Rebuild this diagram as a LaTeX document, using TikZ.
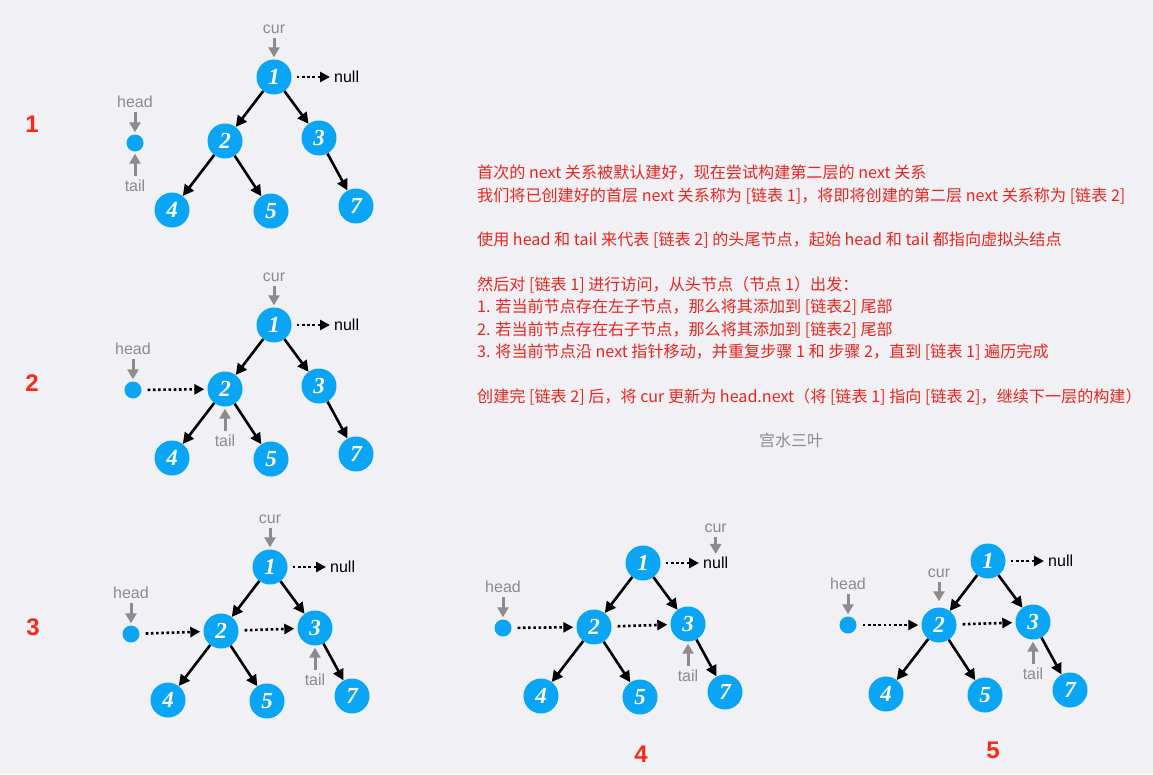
\documentclass[tikz,border=0pt]{standalone}
\usepackage{fontspec}
\setmainfont{Liberation Serif}
\setsansfont{Liberation Sans}
\newfontfamily\cjk{Noto Sans CJK SC}
\usetikzlibrary{arrows.meta,positioning}
\definecolor{nodeblue}{RGB}{10,165,245}
\definecolor{bg}{RGB}{240,240,245}
\definecolor{ptrgray}{RGB}{140,140,140}
\definecolor{note}{RGB}{232,38,30}
\definecolor{steplbl}{RGB}{250,40,20}
\tikzset{
  tnode/.style={circle, fill=nodeblue, minimum size=35pt, inner sep=0pt, text=white,
    font=\fontsize{23}{23}\selectfont\bfseries\itshape},
  dummy/.style={circle, fill=nodeblue, minimum size=17pt, inner sep=0pt},
  lbl/.style={text=ptrgray, font=\fontsize{16}{16}\selectfont\sffamily, inner sep=1pt},
  nul/.style={font=\fontsize{16}{16}\selectfont\sffamily, inner sep=1pt},
  child/.style={-{Triangle[length=11pt,width=11pt]}, line width=2.6pt},
  ptr/.style={-{Triangle[length=10pt,width=11pt]}, draw=ptrgray, line width=3pt,
    shorten >=2pt, shorten <=3pt},
  nxt/.style={-{Triangle[length=10pt,width=10pt]}, line width=2.6pt,
    dash pattern=on 2.6pt off 2.6pt, shorten <=6pt, shorten >=3pt},
  steplabel/.style={text=steplbl, font=\fontsize{24}{24}\selectfont\sffamily\bfseries}
}
\begin{document}
\begin{tikzpicture}[x=1pt, y=-1pt]
\useasboundingbox[fill=bg] (0,0) rectangle (1153,774);
% the same tree in every step
\foreach \p/\x/\y/\hx/\hy in {a/274/77/135/143, b/274/325/133/390, c/270/567/131/634,
  d/643/563/503/628, e/988/561/848/625}{
  \node[tnode] (\p1) at (\x,\y) {1};
  \node[tnode] (\p2) at (\x-49,\y+64) {2};
  \node[tnode] (\p3) at (\x+45,\y+61) {3};
  \node[tnode] (\p4) at (\x-102,\y+133) {4};
  \node[tnode] (\p5) at (\x-3,\y+134) {5};
  \node[tnode] (\p7) at (\x+82,\y+129) {7};
  \node[nul, anchor=west] (\p-null) at (\x+59,\y) {null};
  \node[dummy] (\p-dot) at (\hx,\hy) {};
  \node[lbl, above=25pt of \p-dot] (\p-head) {head};
  \draw[child] (\p1) -- (\p2);
  \draw[child] (\p1) -- (\p3);
  \draw[child] (\p2) -- (\p4);
  \draw[child] (\p2) -- (\p5);
  \draw[child] (\p3) -- (\p7);
  \draw[nxt, shorten <=5pt] (\p1) -- (\p-null);
  \draw[ptr] (\p-head) -- (\p-dot);
}
% step 1
\node[lbl, above=24pt of a1] (a-cur) {cur};
\draw[ptr] (a-cur) -- (a1);
\node[lbl, below=27pt of a-dot] (a-tail) {tail};
\draw[ptr] (a-tail) -- (a-dot);
% step 2
\node[lbl, above=24pt of b1] (b-cur) {cur};
\draw[ptr] (b-cur) -- (b1);
\draw[nxt] (b-dot) -- (b2);
\node[lbl, below=27pt of b2] (b-tail) {tail};
\draw[ptr] (b-tail) -- (b2);
% step 3
\node[lbl, above=24pt of c1] (c-cur) {cur};
\draw[ptr] (c-cur) -- (c1);
\draw[nxt] (c-dot) -- (c2);
\draw[nxt] (c2) -- (c3);
\node[lbl, below=27pt of c3] (c-tail) {tail};
\draw[ptr] (c-tail) -- (c3);
% step 4
\node[lbl, above=22pt of d-null] (d-cur) {cur};
\draw[ptr] (d-cur) -- (d-null);
\draw[nxt] (d-dot) -- (d2);
\draw[nxt] (d2) -- (d3);
\node[lbl, below=27pt of d3] (d-tail) {tail};
\draw[ptr] (d-tail) -- (d3);
% step 5
\node[lbl, above=28pt of e2] (e-cur) {cur};
\draw[ptr, shorten >=6pt] (e-cur) -- (e2);
\draw[nxt] (e-dot) -- (e2);
\draw[nxt] (e2) -- (e3);
\node[lbl, below=27pt of e3] (e-tail) {tail};
\draw[ptr] (e-tail) -- (e3);

\node[steplabel] (s1) at (32,124) {1};
\node[steplabel] (s2) at (32,383) {2};
\node[steplabel] (s3) at (33,627) {3};
\node[steplabel] (s4) at (641,754) {4};
\node[steplabel] (s5) at (993,750) {5};

\node[text=note, anchor=north west, align=left, inner sep=0pt,
  font=\cjk\fontsize{16.1}{22.5}\selectfont] (notes) at (477,165) {%
首次的 next 关系被默认建好，现在尝试构建第二层的 next 关系\\
我们将已创建好的首层 next 关系称为 [链表 1]，将即将创建的第二层 next 关系称为 [链表 2]\\[22pt]
使用 head 和 tail 来代表 [链表 2] 的头尾节点，起始 head 和 tail 都指向虚拟头结点\\[22pt]
然后对 [链表 1] 进行访问，从头节点（节点 1）出发：\\
1. 若当前节点存在左子节点，那么将其添加到 [链表2] 尾部\\
2. 若当前节点存在右子节点，那么将其添加到 [链表2] 尾部\\
3. 将当前节点沿 next 指针移动，并重复步骤 1 和 步骤 2，直到 [链表 1] 遍历完成\\[22pt]
创建完 [链表 2] 后，将 cur 更新为 head.next（将 [链表 1] 指向 [链表 2]，继续下一层的构建）};
\node[text=ptrgray, font=\cjk\fontsize{16}{16}\selectfont] (sign) at (791,440) {宫水三叶};
\end{tikzpicture}
\end{document}
